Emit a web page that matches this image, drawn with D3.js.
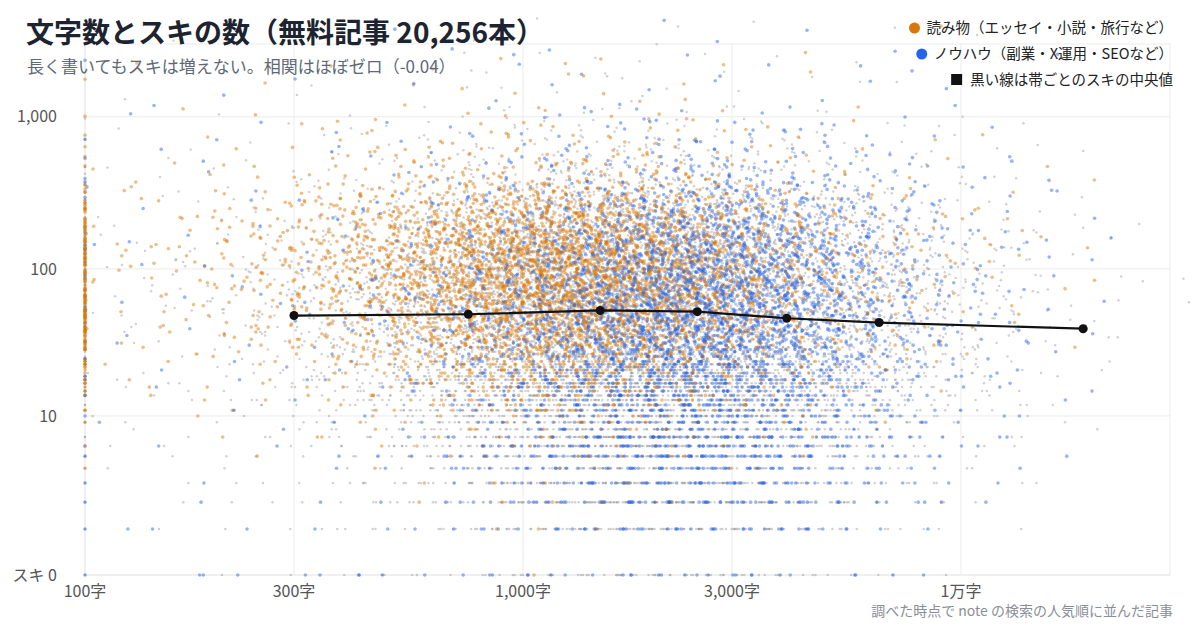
<!DOCTYPE html>
<html><head><meta charset="utf-8">
<script src="https://cdn.jsdelivr.net/npm/d3@7"></script>
<style>
body{margin:0;background:#fff}
svg text{font-family:"Noto Sans CJK JP","Noto Sans",sans-serif}
</style></head><body>
<svg id="c" width="1200" height="630"></svg>
<script>
// ---------- data ----------
const titleText = "文字数とスキの数（無料記事 20,256本）";
const subtitleText = "長く書いてもスキは増えない。相関はほぼゼロ（-0.04）";
const noteText = "調べた時点で note の検索の人気順に並んだ記事";
const legendLabels = ["読み物（エッセイ・小説・旅行など）", "ノウハウ（副業・X運用・SEOなど）", "黒い線は帯ごとのスキの中央値"];

const xTickValues = [100, 300, 1000, 3000, 10000];
const xTickLabels = ["100字", "300字", "1,000字", "3,000字", "1万字"];
const yTickValues = [0, 10, 100, 1000];
const yTickLabels = ["スキ 0", "10", "100", "1,000"];

// median of likes per length band (black line)
const medianChars = [300, 750, 1500, 2500, 4000, 6500, 19000];
const medianLikes = [49, 50, 53, 52, 47, 44, 40];

// Columns: first = articles at the 100字 edge, then char-count bins with these edges.
const charBinEdges = [100, 133, 178, 237, 316, 422, 562, 750, 1000, 1334, 1778, 2371, 3162, 4217, 5623, 7499, 10000, 13335, 17783, 23714, 31623];
// Rows (top to bottom): like-count bands
const likeBandLow  = [1001, 551, 301, 171, 101, 61, 36, 21, 13, 8, 5, 3, 2, 1, 0];
const likeBandHigh = [3000, 1000, 550, 300, 170, 100, 60, 35, 20, 12, 7, 4, 2, 1, 0];

const countsOther = [
 [1,1,1,1,1,2,2,3,4,5,5,5,5,4,3,2,2,1,1,0,0],
 [2,1,1,1,2,3,4,6,8,10,11,11,10,8,6,4,3,2,1,0,0],
 [4,1,2,3,4,6,10,16,24,32,36,36,32,24,16,10,6,3,2,1,0],
 [8,2,3,4,8,14,26,45,75,100,115,115,100,75,48,28,14,7,3,1,0],
 [10,3,4,6,12,22,42,75,125,170,195,195,170,125,80,45,22,10,4,2,1],
 [10,3,4,7,14,26,50,90,150,210,240,240,210,155,100,55,26,12,5,2,1],
 [12,3,4,7,14,26,50,92,155,220,255,258,225,165,105,58,27,12,5,2,1],
 [10,3,4,6,12,22,42,80,135,195,230,235,205,150,95,52,24,10,4,2,1],
 [7,2,3,4,8,15,30,58,100,145,175,180,158,115,72,40,18,8,3,1,0],
 [5,2,2,3,5,10,20,40,70,100,122,126,110,80,50,27,12,5,2,1,0],
 [3,1,1,2,3,6,12,24,42,62,76,80,70,50,31,16,7,3,1,0,0],
 [2,1,1,1,2,4,7,14,25,38,47,50,44,31,19,10,4,2,1,0,0],
 [1,0,1,1,1,2,4,7,12,19,24,26,23,16,10,5,2,1,0,0,0],
 [1,0,1,1,1,2,3,6,10,16,20,22,19,13,8,4,2,1,0,0,0],
 [1,0,0,1,1,1,2,3,5,8,10,11,10,7,4,2,1,0,0,0,0]
];
const countsReading = [
 [1,0,1,1,1,1,2,2,3,3,3,3,2,2,1,1,1,0,0,0,0],
 [2,1,1,1,2,3,4,5,7,7,7,6,4,3,2,1,1,1,0,0,0],
 [6,1,2,3,5,9,13,18,24,27,26,20,14,9,5,3,2,1,1,0,0],
 [25,3,5,8,15,28,45,70,95,108,100,80,55,32,17,9,5,3,2,1,0],
 [35,4,6,10,20,36,65,100,140,165,150,118,80,45,24,12,6,3,1,1,0],
 [30,3,5,9,17,32,58,95,138,160,145,112,76,43,23,12,6,3,1,1,0],
 [45,3,4,7,13,24,45,78,112,130,118,92,62,36,19,10,5,2,1,0,0],
 [25,2,3,4,7,13,26,46,70,82,75,58,38,22,12,6,3,1,1,0,0],
 [8,1,1,2,3,5,10,18,28,33,30,24,16,9,5,2,1,0,0,0,0],
 [3,0,1,1,1,2,3,6,10,12,11,9,6,3,2,1,0,0,0,0,0],
 [1,0,0,0,1,1,1,2,3,4,4,3,2,1,1,0,0,0,0,0,0],
 [1,0,0,0,0,0,1,1,2,2,2,1,1,1,0,0,0,0,0,0,0],
 [0,0,0,0,0,0,0,1,1,1,1,1,0,0,0,0,0,0,0,0,0],
 [0,0,0,0,0,0,0,0,1,1,1,0,0,0,0,0,0,0,0,0,0],
 [0,0,0,0,0,0,0,0,0,1,0,0,0,0,0,0,0,0,0,0,0]
];
const countsKnowhow = [
 [1,1,1,1,1,1,1,2,2,3,3,4,4,4,3,2,2,1,1,0,0],
 [2,1,1,1,1,1,2,3,4,5,7,8,8,7,5,3,2,1,1,0,0],
 [2,1,1,1,1,2,3,5,8,13,18,24,26,22,15,9,5,2,1,1,0],
 [2,1,1,1,1,3,5,10,18,30,48,68,75,62,42,22,10,4,2,1,0],
 [3,1,1,1,2,3,7,14,26,45,72,100,108,88,58,30,13,5,2,1,0],
 [3,1,1,1,2,4,8,16,30,52,82,110,115,95,62,32,14,5,2,1,0],
 [3,1,1,1,2,4,9,18,34,58,88,112,115,95,62,32,14,5,2,1,0],
 [3,1,1,1,1,3,5,12,30,55,84,105,108,88,58,30,12,5,2,1,0],
 [2,0,1,1,1,2,3,7,18,34,52,66,68,56,36,19,8,3,2,1,0],
 [2,1,0,1,1,1,2,5,13,26,40,50,52,43,28,15,6,2,1,0,0],
 [2,0,1,0,1,1,2,4,10,20,29,36,38,31,20,10,5,2,1,0,0],
 [1,0,0,1,0,1,1,3,7,13,19,24,25,21,13,7,3,1,1,0,0],
 [1,0,1,0,0,1,1,2,4,7,10,12,13,10,7,4,2,1,0,0,0],
 [1,1,1,0,1,1,1,2,3,5,7,8,8,7,5,2,1,0,0,0,0],
 [1,0,1,2,1,2,2,2,3,3,3,4,4,3,2,2,1,0,0,0,0]
];

// ---------- drawing ----------
const svg = d3.select("#c");
const x = d3.scaleLog().domain([100, 30000]).range([85, 1170]);
const y = d3.scaleSymlog().constant(1).domain([0, 3000]).range([575, 44]);

const C_OR = "#D97706", C_BL = "#2563EB";
const GRID = "#ebebeb";

// frame + grid
const g = svg.append("g");
g.append("rect").attr("x", 85).attr("y", 44).attr("width", 1170 - 85).attr("height", 575 - 44)
  .attr("fill", "none").attr("stroke", GRID).attr("stroke-width", 1);
g.selectAll("line.gx").data(xTickValues).join("line")
  .attr("x1", d => x(d)).attr("x2", d => x(d)).attr("y1", 44).attr("y2", 575)
  .attr("stroke", GRID).attr("stroke-width", 1);
g.selectAll("line.gy").data(yTickValues).join("line")
  .attr("x1", 85).attr("x2", 1170).attr("y1", d => y(d)).attr("y2", d => y(d))
  .attr("stroke", GRID).attr("stroke-width", 1);

// expand density cells into points: deterministic Halton spread inside each cell,
// with a triangular overlap into neighbouring cells so the cloud has no block edges
function halton(i, b) { let f = 1, r = 0; while (i > 0) { f /= b; r += f * (i % b); i = Math.floor(i / b); } return r; }
function cellPoints(counts, sIdx) {
  const pts = [];
  const lxMin = 2;
  counts.forEach((row, r) => {
    const lo = likeBandLow[r], hi = likeBandHigh[r];
    row.forEach((n, c) => {
      const off = ((sIdx * 389 + r * 97 + c * 53) % 1500) + 1;
      for (let i = 0; i < n; i++) {
        const j = off + i;
        const h2 = halton(j, 2), h3 = halton(j, 3), h5 = halton(j, 5), h7 = halton(j, 7);
        let chars;
        if (c === 0) chars = 100;
        else {
          const a = Math.log10(charBinEdges[c - 1]), b = Math.log10(charBinEdges[c]);
          const t = h2 + h5 - 0.5;
          let lx = a + t * (b - a);
          if (lx < lxMin) lx = lxMin + (lxMin - lx);
          chars = Math.pow(10, lx);
        }
        let likes;
        if (hi === lo) likes = lo;
        else {
          const ya = Math.log10(lo + 0.5), yb = Math.log10(hi + 1.5);
          const wide = hi - lo >= 4;
          const t = wide ? (h3 + h7 - 0.5) : h3;
          likes = Math.round(Math.pow(10, ya + t * (yb - ya)) - 1);
          if (!wide) likes = Math.max(lo, Math.min(hi, likes));
          likes = Math.max(0, likes);
        }
        pts.push({ chars, likes, s: sIdx, o: halton(j + sIdx * 7, 11) });
      }
    });
  });
  return pts;
}
const grayPts = cellPoints(countsOther, 0);
const colorPts = cellPoints(countsReading, 1).concat(cellPoints(countsKnowhow, 2))
  .sort((a, b) => a.o - b.o);

const dots = svg.append("g");
dots.selectAll("circle.g").data(grayPts).join("circle")
  .attr("cx", d => x(d.chars)).attr("cy", d => y(d.likes)).attr("r", 1.25)
  .attr("fill", "#8c8c8c").attr("fill-opacity", 0.4);
dots.selectAll("circle.cc").data(colorPts).join("circle")
  .attr("cx", d => x(d.chars)).attr("cy", d => y(d.likes)).attr("r", 1.8)
  .attr("fill", d => d.s === 1 ? C_OR : C_BL).attr("fill-opacity", 0.48);

// median line
const med = medianChars.map((c, i) => [c, medianLikes[i]]);
svg.append("path").datum(med)
  .attr("d", d3.line().x(d => x(d[0])).y(d => y(d[1])))
  .attr("fill", "none").attr("stroke", "#111").attr("stroke-width", 2.2);
svg.selectAll("circle.m").data(med).join("circle")
  .attr("cx", d => x(d[0])).attr("cy", d => y(d[1])).attr("r", 4.5).attr("fill", "#111");

// axes labels
svg.selectAll("text.yl").data(yTickValues).join("text")
  .attr("x", 57).attr("y", d => y(d)).attr("dy", "0.35em").attr("text-anchor", "end")
  .attr("font-size", 16).attr("fill", "#555").text((d, i) => yTickLabels[i]);
svg.selectAll("text.xl").data(xTickValues).join("text")
  .attr("x", d => x(d)).attr("y", 597).attr("text-anchor", "middle")
  .attr("font-size", 16).attr("fill", "#555").text((d, i) => xTickLabels[i]);

// titles
svg.append("text").attr("x", 26).attr("y", 43).attr("font-size", 28).attr("font-weight", 700)
  .attr("fill", "#1d2430").text(titleText);
svg.append("text").attr("x", 27).attr("y", 73).attr("font-size", 17)
  .attr("fill", "#5e6875").text(subtitleText);
svg.append("text").attr("x", 1173).attr("y", 616).attr("text-anchor", "end").attr("font-size", 14)
  .attr("fill", "#8a8f97").text(noteText);

// legend
const legY = [33, 59, 85];
legendLabels.forEach((lab, i) => {
  const t = svg.append("text").attr("x", 1173).attr("y", legY[i]).attr("text-anchor", "end")
    .attr("font-size", 14.5).attr("fill", "#222").text(lab);
  const w = t.node().getComputedTextLength();
  const sx = 1173 - w;
  if (i < 2) {
    svg.append("circle").attr("cx", sx - 12).attr("cy", legY[i] - 5).attr("r", 5.5)
      .attr("fill", i === 0 ? C_OR : C_BL);
  } else {
    svg.append("rect").attr("x", sx - 19).attr("y", legY[i] - 11).attr("width", 11).attr("height", 11)
      .attr("fill", "#111");
  }
});
</script>
</body></html>
